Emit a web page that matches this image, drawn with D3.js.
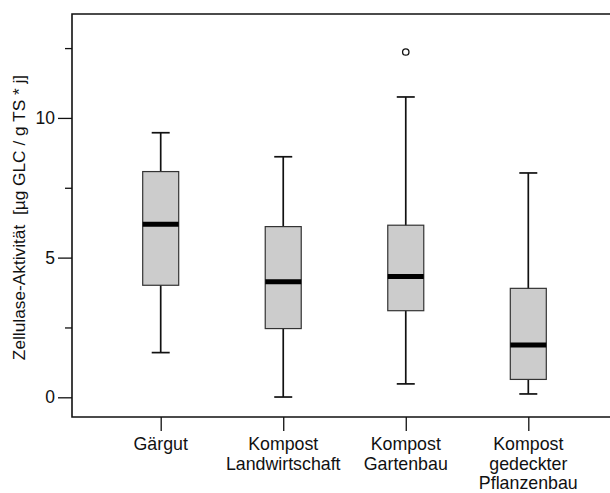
<!DOCTYPE html>
<html>
<head>
<meta charset="utf-8">
<script src="https://cdn.jsdelivr.net/npm/d3@7"></script>
<style>
  body { margin: 0; background: #fff; }
  text { font-family: "Liberation Sans", Arial, sans-serif; fill: #111; }
</style>
</head>
<body>
<div id="chart"></div>
<script>
// categories and box stats
const categories = ["Gärgut", "Kompost Landwirtschaft", "Kompost Gartenbau", "Kompost gedeckter Pflanzenbau"];
const labelLines = [["Gärgut"], ["Kompost", "Landwirtschaft"], ["Kompost", "Gartenbau"], ["Kompost", "gedeckter", "Pflanzenbau"]];
const whiskerLow = [1.60, 0.01, 0.48, 0.12];
const q1 = [4.01, 2.46, 3.10, 0.64];
const median = [6.19, 4.14, 4.32, 1.87];
const q3 = [8.08, 6.11, 6.16, 3.90];
const whiskerHigh = [9.47, 8.61, 10.75, 8.03];
const outliers = [[], [], [12.36], []];
const majorTicks = [0, 5, 10];
const minorTicks = [2.5, 7.5, 12.5];
const yTitle = "Zellulase-Aktivität  [µg GLC / g TS * j]";

const width = 610, height = 493;
const plotLeft = 72, plotTop = 14, plotBottom = 417;

const svg = d3.select("#chart").append("svg")
  .attr("width", width)
  .attr("height", height);

const y = d3.scaleLinear().domain([-0.705, 13.72]).range([plotBottom, plotTop]);
const x = d3.scalePoint().domain(categories).range([160.7, 528.3]);

const boxW = 36, capW = 18;

// y axis ticks
svg.append("g")
  .attr("transform", `translate(${plotLeft},0)`)
  .call(d3.axisLeft(y).tickValues(majorTicks).tickSize(14).tickPadding(3).tickFormat(d3.format("d")))
  .call(g => g.select(".domain").remove())
  .call(g => g.selectAll("line").attr("stroke", "#111").attr("stroke-width", 1.3))
  .call(g => g.selectAll("text").style("font-size", "17.5px").attr("fill", "#111")
    .style("font-family", "'Liberation Sans', Arial, sans-serif"));

svg.append("g")
  .attr("transform", `translate(${plotLeft},0)`)
  .call(d3.axisLeft(y).tickValues(minorTicks).tickSize(7).tickFormat(""))
  .call(g => g.select(".domain").remove())
  .call(g => g.selectAll("line").attr("stroke", "#111").attr("stroke-width", 1.3));

// x axis ticks
svg.append("g")
  .attr("transform", `translate(0,${plotBottom})`)
  .call(d3.axisBottom(x).tickSize(14).tickFormat(""))
  .call(g => g.select(".domain").remove())
  .call(g => g.selectAll("line").attr("stroke", "#111").attr("stroke-width", 1.3));

// multi-line category labels
categories.forEach((c, i) => {
  const t = svg.append("text")
    .attr("x", x(c))
    .attr("y", 450)
    .attr("text-anchor", "middle")
    .style("font-size", "17.8px");
  labelLines[i].forEach((line, j) => {
    t.append("tspan").attr("x", x(c)).attr("dy", j === 0 ? 0 : 19.5).text(line);
  });
});

// frame (left, top, bottom)
svg.append("path")
  .attr("d", `M${width},${plotTop}H${plotLeft}V${plotBottom}H${width}`)
  .attr("fill", "none")
  .attr("stroke", "#111")
  .attr("stroke-width", 1.6);

// y title
svg.append("text")
  .attr("transform", `translate(25,217.5) rotate(-90)`)
  .attr("text-anchor", "middle")
  .style("font-size", "17.3px")
  .style("white-space", "pre")
  .text(yTitle);

// boxes
const boxes = svg.append("g").selectAll("g")
  .data(categories)
  .join("g");

boxes.append("line")
  .attr("x1", d => x(d)).attr("x2", d => x(d))
  .attr("y1", (d, i) => y(whiskerLow[i])).attr("y2", (d, i) => y(whiskerHigh[i]))
  .attr("stroke", "#111").attr("stroke-width", 1.7);

boxes.append("line")
  .attr("x1", d => x(d) - capW / 2).attr("x2", d => x(d) + capW / 2)
  .attr("y1", (d, i) => y(whiskerHigh[i])).attr("y2", (d, i) => y(whiskerHigh[i]))
  .attr("stroke", "#111").attr("stroke-width", 1.7);

boxes.append("line")
  .attr("x1", d => x(d) - capW / 2).attr("x2", d => x(d) + capW / 2)
  .attr("y1", (d, i) => y(whiskerLow[i])).attr("y2", (d, i) => y(whiskerLow[i]))
  .attr("stroke", "#111").attr("stroke-width", 1.7);

boxes.append("rect")
  .attr("x", d => x(d) - boxW / 2)
  .attr("width", boxW)
  .attr("y", (d, i) => y(q3[i]))
  .attr("height", (d, i) => y(q1[i]) - y(q3[i]))
  .attr("fill", "#cccccc")
  .attr("stroke", "#333")
  .attr("stroke-width", 1.2);

boxes.append("line")
  .attr("x1", d => x(d) - boxW / 2).attr("x2", d => x(d) + boxW / 2)
  .attr("y1", (d, i) => y(median[i])).attr("y2", (d, i) => y(median[i]))
  .attr("stroke", "#000").attr("stroke-width", 5);

boxes.selectAll("circle")
  .data((d, i) => outliers[i].map(v => ({ c: d, v })))
  .join("circle")
  .attr("cx", o => x(o.c))
  .attr("cy", o => y(o.v))
  .attr("r", 3.2)
  .attr("fill", "none")
  .attr("stroke", "#111")
  .attr("stroke-width", 1.3);
</script>
</body>
</html>
